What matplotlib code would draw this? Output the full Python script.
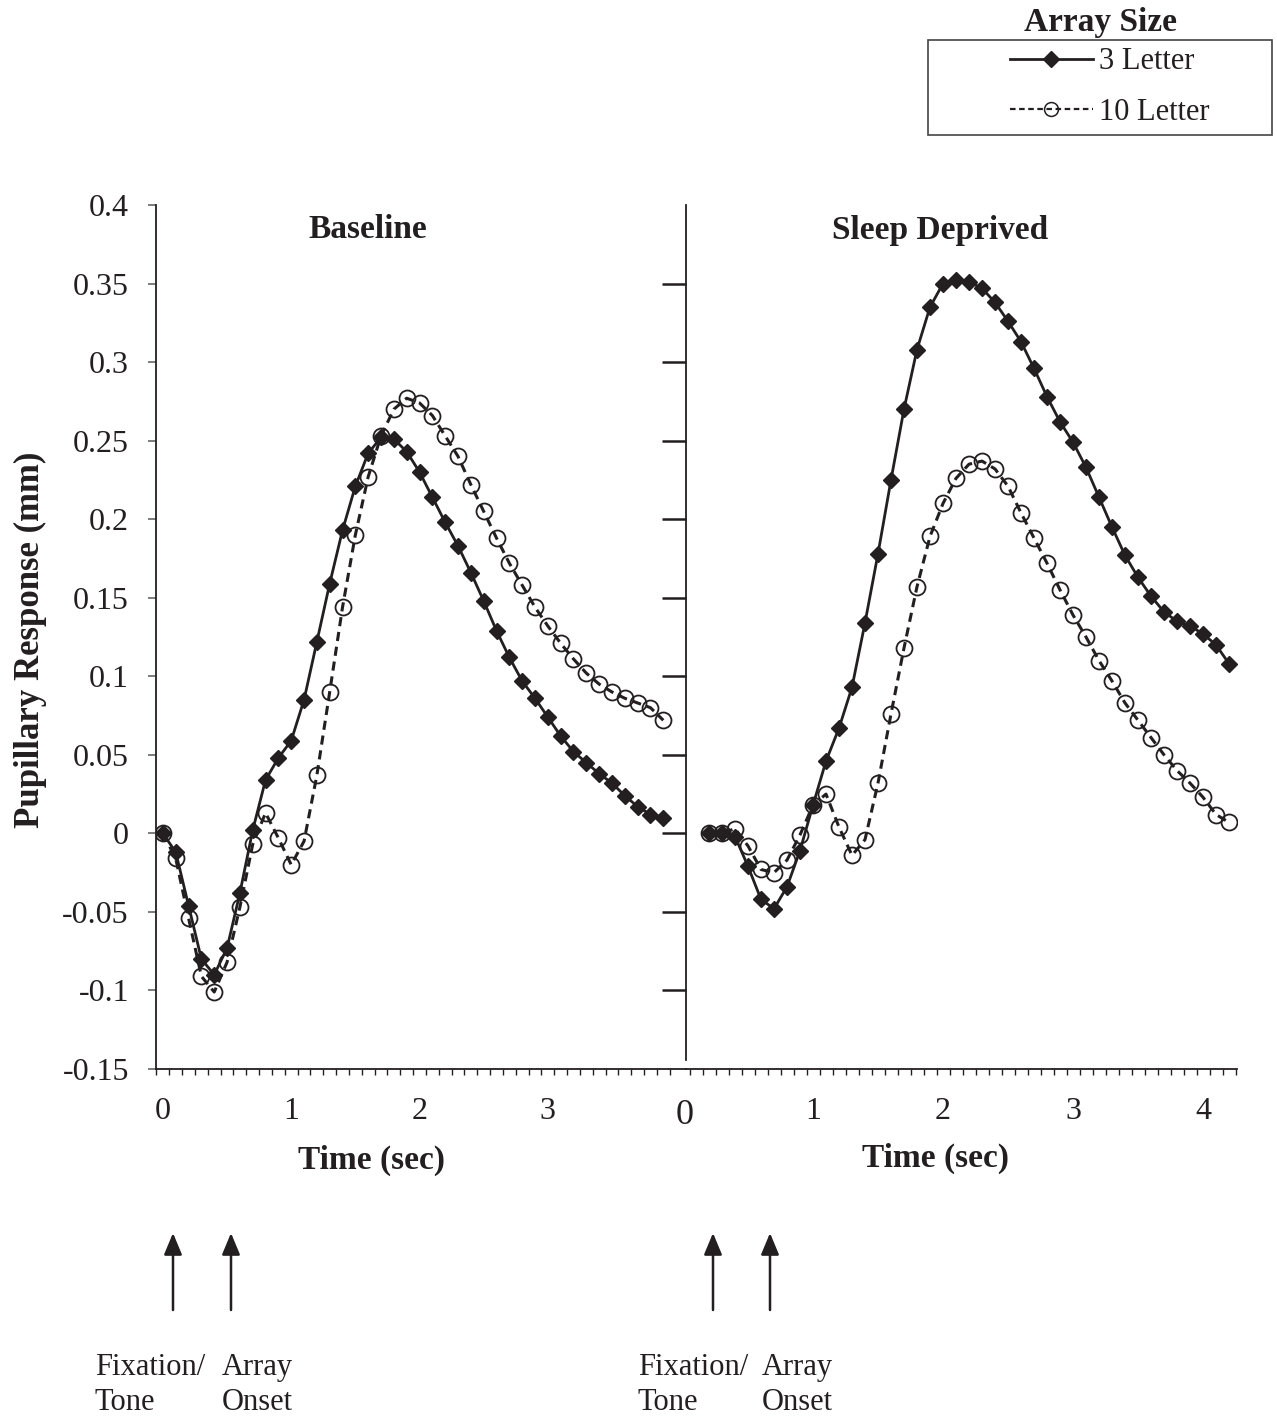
import numpy as np
import matplotlib
matplotlib.use("Agg")
import matplotlib.pyplot as plt
from matplotlib.patches import Rectangle, FancyArrowPatch
from matplotlib.lines import Line2D

plt.rcParams['font.family'] = ['Liberation Serif', 'DejaVu Serif']

# sample times (s)
base_time = np.round(np.arange(0, 40) * 0.1, 1)        # 0.0 .. 3.9
sd_time = np.round(np.arange(2, 43) * 0.1, 1)          # 0.2 .. 4.2

# pupillary response (mm), baseline session
base_3 = [0.0, -0.012, -0.046, -0.080, -0.090, -0.073, -0.038, 0.002, 0.034, 0.048,
          0.059, 0.085, 0.122, 0.159, 0.193, 0.221, 0.242, 0.252, 0.251, 0.243,
          0.230, 0.214, 0.198, 0.183, 0.166, 0.148, 0.129, 0.112, 0.097, 0.086,
          0.074, 0.062, 0.052, 0.045, 0.038, 0.032, 0.024, 0.017, 0.012, 0.010]
base_10 = [0.0, -0.016, -0.054, -0.091, -0.101, -0.082, -0.047, -0.007, 0.013, -0.003,
           -0.020, -0.005, 0.037, 0.090, 0.144, 0.190, 0.227, 0.253, 0.270, 0.277,
           0.274, 0.266, 0.253, 0.240, 0.222, 0.205, 0.188, 0.172, 0.158, 0.144,
           0.132, 0.121, 0.111, 0.102, 0.095, 0.090, 0.086, 0.083, 0.080, 0.072]

# pupillary response (mm), sleep deprived session
sd_3 = [0.0, 0.0, -0.002, -0.021, -0.042, -0.048, -0.034, -0.011, 0.018, 0.046,
        0.067, 0.093, 0.134, 0.178, 0.225, 0.270, 0.308, 0.335, 0.350, 0.352,
        0.351, 0.347, 0.338, 0.326, 0.313, 0.296, 0.278, 0.262, 0.249, 0.233,
        0.214, 0.195, 0.177, 0.163, 0.151, 0.141, 0.135, 0.132, 0.127, 0.120, 0.108]
sd_10 = [0.0, 0.0, 0.003, -0.008, -0.023, -0.025, -0.017, -0.001, 0.018, 0.025,
         0.004, -0.014, -0.004, 0.032, 0.076, 0.118, 0.157, 0.189, 0.210, 0.226,
         0.235, 0.237, 0.232, 0.221, 0.204, 0.188, 0.172, 0.155, 0.139, 0.125,
         0.110, 0.097, 0.083, 0.072, 0.061, 0.050, 0.040, 0.032, 0.023, 0.012, 0.007]

yticks = np.round(np.arange(-0.15, 0.401, 0.05), 2)
ylabels = ['-0.15', '-0.1', '-0.05', '0', '0.05', '0.1', '0.15', '0.2', '0.25',
           '0.3', '0.35', '0.4']

W, H = 1277, 1416
fig = plt.figure(figsize=(W / 100, H / 100), dpi=100)

def fx(px):
    return px / W

def fy(py):
    return 1 - py / H

ink = '#231f20'
pps = 130.0  # pixels per second

ax1 = fig.add_axes([fx(156), fy(1069), (686 - 156) / W, (1069 - 205) / H])
ax2 = fig.add_axes([fx(686), fy(1069), (1237 - 686) / W, (1069 - 205) / H])
ax1.set_xlim(-7 / pps, 530 / pps)
ax2.set_xlim(3 / pps, 554 / pps)

def draw(ax, t, v3, v10):
    ax.plot(t, v3, '-', color=ink, lw=2.0, marker='D', ms=8,
            mfc=ink, mec=ink, zorder=3)
    ax.plot(t, v10, '--', color=ink, lw=2.2, dashes=(3.0, 1.9), marker='o',
            ms=11.5, mfc='none', mec=ink, mew=1.3, zorder=4)

draw(ax1, base_time, base_3, base_10)
draw(ax2, sd_time, sd_3, sd_10)

for ax in (ax1, ax2):
    ax.set_ylim(-0.15, 0.4)
    ax.patch.set_alpha(0)
    ax.spines['top'].set_visible(False)
    ax.spines['right'].set_visible(False)
    for s in ('left', 'bottom'):
        ax.spines[s].set_color(ink)
        ax.spines[s].set_linewidth(1.3)
    ax.tick_params(axis='x', which='major', length=0, pad=20, labelsize=23,
                   colors=ink)
    ax.tick_params(axis='x', which='minor', length=4.5, width=1, direction='out',
                   colors=ink)

ax1.set_yticks(yticks)
ax1.set_yticklabels(ylabels)
ax1.tick_params(axis='y', length=5.5, width=1.2, pad=14, labelsize=23,
                colors='#666666', labelcolor=ink)
ax1.set_xticks([0, 1, 2, 3])
ax1.set_xticklabels(['0', '1', '2', '3'])
ax1.set_xticks(np.round(np.arange(-0.05, 4.0, 0.1), 2), minor=True)

ax2.set_yticks(yticks[1:-1])
ax2.set_yticklabels([])
ax2.spines['left'].set_bounds(-0.144, 0.4)
ax2.tick_params(axis='y', length=17, width=1.8, colors=ink)
ax2.set_xticks([1, 2, 3, 4])
ax2.set_xticklabels(['1', '2', '3', '4'])
ax2.set_xticks(np.round(np.arange(0.05, 4.3, 0.1), 2), minor=True)

fig.text(fx(685), fy(1116), '0', fontsize=26, ha='center', va='center', color=ink)

fig.text(fx(368), fy(230), 'Baseline', fontsize=24, fontweight='bold',
         ha='center', va='center', color=ink)
fig.text(fx(940), fy(230), 'Sleep Deprived', fontsize=24, fontweight='bold',
         ha='center', va='center', color=ink)

fig.text(fx(30), fy(640), 'Pupillary Response (mm)', rotation=90, fontsize=25,
         fontweight='bold', ha='center', va='center', color=ink)
fig.text(fx(372), fy(1160), 'Time (sec)', fontsize=24, fontweight='bold',
         ha='center', va='center', color=ink)
fig.text(fx(935), fy(1158), 'Time (sec)', fontsize=24, fontweight='bold',
         ha='center', va='center', color=ink)

# legend
fig.patches.append(Rectangle((fx(928), fy(135)), (1272 - 928) / W, (135 - 40) / H,
                             transform=fig.transFigure, fill=False, ec='#444444',
                             lw=1.2))
fig.text(fx(1101), fy(22), 'Array Size', fontsize=24, fontweight='bold',
         ha='center', va='center', color=ink)
handles = [Line2D([], [], color=ink, lw=2.0, marker='D', ms=8, mfc=ink, mec=ink),
           Line2D([], [], color=ink, lw=1.6, ls='--', dashes=(2.5, 1.6), marker='o',
                  ms=10, mfc='none', mec=ink, mew=1.1)]
fig.legend(handles, ['3 Letter', '10 Letter'], loc='center left',
           bbox_to_anchor=(fx(1010), fy(87)), frameon=False, fontsize=22,
           handlelength=2.7, handletextpad=0.2, labelspacing=0.7,
           borderaxespad=0, borderpad=0, labelcolor=ink)

# event markers
for x0, x1, t1, t2 in [(173, 231, 95, 222), (713, 770, 638, 762)]:
    for xa in (x0, x1):
        fig.add_artist(FancyArrowPatch(
            (fx(xa), fy(1310)), (fx(xa), fy(1233)), transform=fig.transFigure,
            arrowstyle='-|>,head_length=1.2,head_width=0.5', mutation_scale=11,
            color=ink, lw=1.8, shrinkA=0, shrinkB=0))
    fig.text(fx(t1), fy(1385), 'Fixation/\nTone', fontsize=22, ha='left',
             va='center', linespacing=1.25, color=ink)
    fig.text(fx(t2), fy(1385), 'Array\nOnset', fontsize=22, ha='left',
             va='center', linespacing=1.25, color=ink)

fig.savefig('out.png', dpi=100)
